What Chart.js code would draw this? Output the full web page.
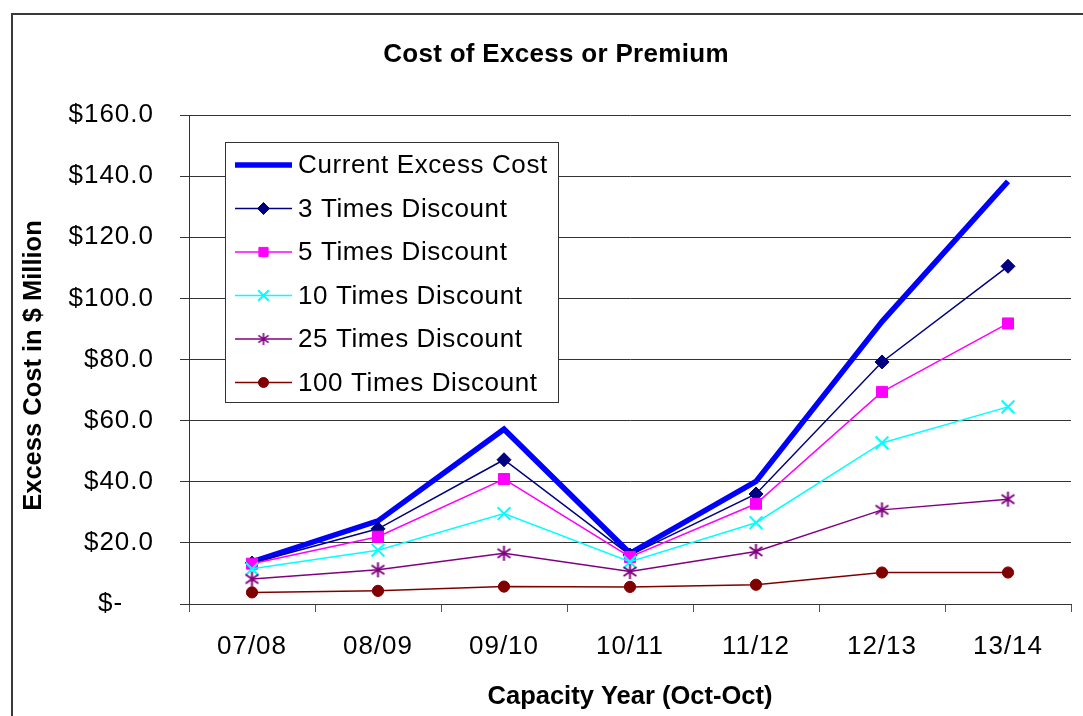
<!DOCTYPE html>
<html>
<head>
<meta charset="utf-8">
<title>Cost of Excess or Premium</title>
<script src="https://cdn.jsdelivr.net/npm/chart.js@4/dist/chart.umd.min.js"></script>
<style>
  html, body { margin: 0; padding: 0; background: #fff; }
  canvas { display: block; }
</style>
</head>
<body>
<canvas id="chart" width="1083" height="716" style="width:1083px;height:716px"></canvas>
<script>
// Capacity years (Oct-Oct)
const categories = ['07/08', '08/09', '09/10', '10/11', '11/12', '12/13', '13/14'];

// Excess cost, $ million
const currentExcessCost = [13.8, 27.2, 57.2, 16.6, 40.1, 92.4, 138.3];
const discount3x        = [13.4, 24.6, 47.2, 16.0, 36.0, 79.2, 110.5];
const discount5x        = [13.2, 22.0, 40.9, 15.4, 32.8, 69.4, 91.8];
const discount10x       = [11.5, 17.6, 29.6, 13.8, 26.6, 52.7, 64.5];
const discount25x       = [8.2, 11.2, 16.6, 10.6, 17.2, 30.8, 34.3];
const discount100x      = [3.8, 4.3, 5.7, 5.6, 6.3, 10.3, 10.3];

// Y axis tick values
const yTicks = [0, 20, 40, 60, 80, 100, 120, 140, 160];

const FONT = '"Liberation Sans", Arial, Helvetica, sans-serif';

// Asterisk marker used by the 25x series
function makeAsterisk(color, size, lw) {
  const c = document.createElement('canvas');
  c.width = size; c.height = size;
  const g = c.getContext('2d');
  const m = size / 2, r = size / 2 - 1;
  g.strokeStyle = color;
  g.lineWidth = lw;
  g.beginPath();
  g.moveTo(m, m - r); g.lineTo(m, m + r);
  const d = r * 0.85;
  g.moveTo(m - d, m - d * 0.7); g.lineTo(m + d, m + d * 0.7);
  g.moveTo(m + d, m - d * 0.7); g.lineTo(m - d, m + d * 0.7);
  g.stroke();
  return c;
}
const asterisk = makeAsterisk('#800080', 17, 2);
const asteriskSmall = makeAsterisk('#800080', 14, 1.6);

// Page frame and chart title
const framePlugin = {
  id: 'frame',
  beforeDraw(chart) {
    const ctx = chart.ctx;
    ctx.save();
    ctx.fillStyle = '#fff';
    ctx.fillRect(0, 0, chart.width, chart.height);
    ctx.strokeStyle = '#3a3a3a';
    ctx.lineWidth = 2;
    ctx.beginPath();
    ctx.moveTo(12, chart.height + 2);
    ctx.lineTo(12, 14);
    ctx.lineTo(chart.width + 2, 14);
    ctx.stroke();
    ctx.fillStyle = '#000';
    ctx.font = 'bold 26px ' + FONT;
    ctx.letterSpacing = '0.3px';
    ctx.textAlign = 'center';
    ctx.textBaseline = 'alphabetic';
    ctx.fillText('Cost of Excess or Premium', 556, 62);
    ctx.restore();
    // wider spacing for tick labels
    ctx.letterSpacing = '1px';
  },
  afterLayout(chart) {
    // axis titles keep normal spacing; the value-axis title sits a little lower
    Object.values(chart.scales).forEach(scale => {
      if (scale._plainTitle) return;
      const orig = scale.drawTitle;
      scale.drawTitle = function () {
        const ctx = this.ctx;
        const prev = ctx.letterSpacing;
        ctx.save();
        ctx.letterSpacing = '0px';
        if (!this.isHorizontal()) ctx.translate(0, 6);
        orig.apply(this, arguments);
        ctx.restore();
        ctx.letterSpacing = prev;
      };
      scale._plainTitle = true;
    });
  }
};

// Boxed legend sitting inside the plot area
const boxLegendPlugin = {
  id: 'boxLegend',
  afterDraw(chart, args, opts) {
    const ctx = chart.ctx;
    const datasets = chart.data.datasets;
    ctx.save();
    ctx.letterSpacing = '0.6px';
    ctx.fillStyle = '#fff';
    ctx.fillRect(opts.x, opts.y, opts.w, opts.h);
    ctx.strokeStyle = '#333';
    ctx.lineWidth = 1;
    ctx.strokeRect(opts.x + 0.5, opts.y + 0.5, opts.w, opts.h);
    datasets.forEach((ds, i) => {
      const y = opts.firstRow + i * opts.rowGap;
      ctx.strokeStyle = ds.borderColor;
      ctx.lineWidth = ds.borderWidth;
      ctx.beginPath();
      ctx.moveTo(opts.x + 10, y);
      ctx.lineTo(opts.x + 67, y);
      ctx.stroke();
      if (ds.legendPoint) {
        ctx.fillStyle = ds.pointBackgroundColor;
        ctx.strokeStyle = ds.pointBorderColor;
        ctx.lineWidth = ds.pointBorderWidth;
        Chart.helpers.drawPoint(ctx, {
          pointStyle: ds.legendPoint.style,
          radius: ds.legendPoint.radius,
          rotation: 0,
          borderWidth: ds.pointBorderWidth
        }, opts.x + 38.5, y);
      }
      ctx.fillStyle = '#000';
      ctx.font = '26px ' + FONT;
      ctx.textAlign = 'left';
      ctx.textBaseline = 'middle';
      ctx.fillText(ds.label, opts.x + 73, y + 1);
    });
    ctx.restore();
  }
};

function series(label, data, color, width, style, radius, pbw, legendStyle, legendRadius, order) {
  return {
    label, data, order,
    borderColor: color,
    backgroundColor: color,
    borderWidth: width,
    pointStyle: style,
    pointRadius: radius,
    pointHoverRadius: radius,
    pointBackgroundColor: color,
    pointBorderColor: color,
    pointBorderWidth: pbw,
    tension: 0,
    fill: false,
    legendPoint: legendStyle ? { style: legendStyle, radius: legendRadius } : null
  };
}

new Chart(document.getElementById('chart'), {
  type: 'line',
  data: {
    labels: categories,
    datasets: [
      series('Current Excess Cost', currentExcessCost, '#0000ff', 5.5, false, 0, 1, null, 0, 6),
      series('3 Times Discount', discount3x, '#000080', 1.5, 'rectRot', 7, 1, 'rectRot', 6, 5),
      series('5 Times Discount', discount5x, '#ff00ff', 1.5, 'rect', 7.8, 1, 'rect', 6.5, 4),
      series('10 Times Discount', discount10x, '#00ffff', 1.5, 'crossRot', 9, 2, 'crossRot', 7.5, 3),
      series('25 Times Discount', discount25x, '#800080', 1.5, asterisk, 8, 1, asteriskSmall, 7, 2),
      series('100 Times Discount', discount100x, '#800000', 1.5, 'circle', 5.6, 1, 'circle', 5, 1)
    ]
  },
  options: {
    responsive: false,
    devicePixelRatio: 1,
    animation: false,
    events: [],
    layout: { padding: { top: 115, right: 12, bottom: 0, left: 0 } },
    plugins: {
      legend: { display: false },
      title: { display: false },
      tooltip: { enabled: false },
      boxLegend: { x: 225, y: 142, w: 333, h: 260, firstRow: 165, rowGap: 43.5 }
    },
    scales: {
      x: {
        type: 'category',
        offset: true,
        afterFit(scale) { scale.height = 112; },
        grid: {
          offset: true,
          drawOnChartArea: false,
          drawTicks: true,
          tickLength: 8,
          color: '#555',
          lineWidth: 1
        },
        border: { display: true, color: '#333', width: 1 },
        ticks: {
          color: '#000',
          font: { family: FONT, size: 26 },
          padding: 19,
          maxRotation: 0,
          autoSkip: false
        },
        title: {
          display: true,
          text: 'Capacity Year (Oct-Oct)',
          color: '#000',
          font: { family: FONT, size: 25.5, weight: 'bold' },
          padding: { top: 0, bottom: 4 }
        }
      },
      y: {
        min: 0,
        max: 160,
        afterFit(scale) { scale.width = 189; },
        afterBuildTicks(scale) { scale.ticks = yTicks.map(v => ({ value: v })); },
        grid: {
          color: '#333',
          lineWidth: 1,
          drawTicks: true,
          tickLength: 9
        },
        border: { display: true, color: '#333', width: 1 },
        ticks: {
          color: '#000',
          font: { family: FONT, size: 26 },
          padding: 26,
          callback: v => v === 0 ? '$-\u2007\u2007' : '$' + v.toFixed(1)
        },
        title: {
          display: true,
          text: 'Excess Cost in $ Million',
          color: '#000',
          font: { family: FONT, size: 25.5, weight: 'bold' },
          padding: { top: 19, bottom: 0 }
        }
      }
    }
  },
  plugins: [framePlugin, boxLegendPlugin]
});
</script>
</body>
</html>
